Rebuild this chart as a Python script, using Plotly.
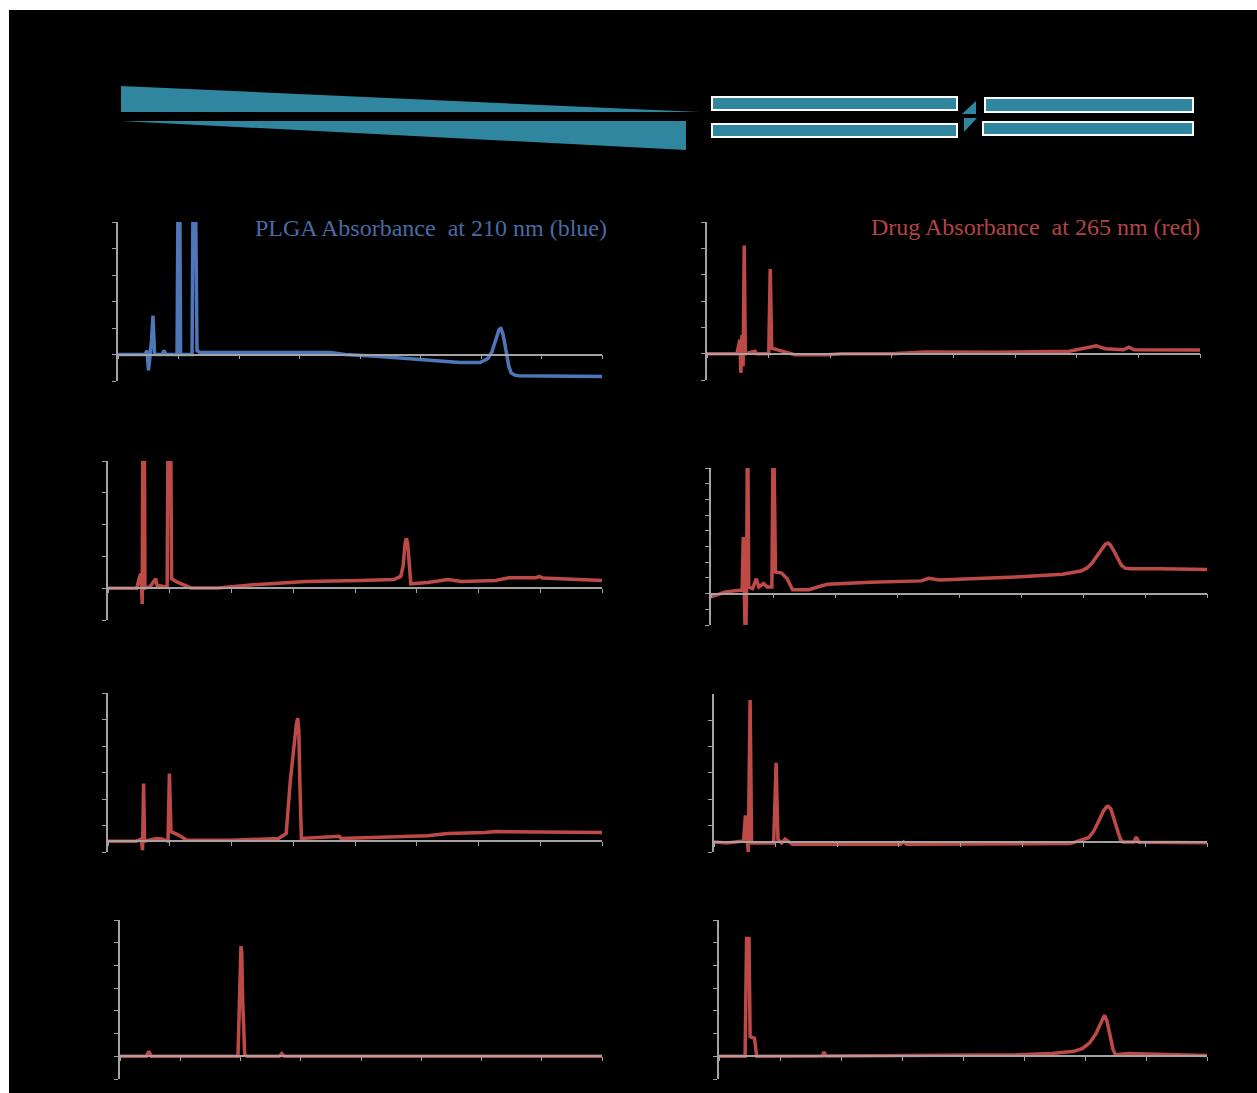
import plotly.graph_objects as go

W, H = 1257, 1093

# ---------------- chromatogram traces (time 0-40, absorbance in axis units) ----------------
# PLGA signal, 210 nm
plga210_t = [0, 2.23, 2.40, 2.52, 2.64, 2.77, 2.89, 3.02, 3.64, 3.80, 3.97, 4.88, 5.04, 5.17,
             6.12, 6.28, 6.53, 6.78, 17.52, 18.76, 21.65, 24.96, 28.26, 29.92, 30.58, 30.90,
             31.10, 31.30, 31.50, 31.65, 31.80, 31.95, 32.10, 32.30, 32.50, 32.80, 33.10, 40]
plga210_a = [0, 0, 0.15, -0.60, -0.08, 0.53, 1.47, 0, 0, 0.15, 0, 0, 12, 0,
             0, 12, 0.15, 0.08, 0.08, 0, -0.08, -0.19, -0.30, -0.30, -0.15, 0.10,
             0.40, 0.75, 0.95, 0.98, 0.80, 0.45, 0.05, -0.45, -0.70, -0.78, -0.80, -0.83]

# Drug signal, 265 nm (same injection)
drug265_t = [0, 2.43, 2.67, 2.75, 2.84, 2.93, 3.02, 3.11, 3.90, 4.04, 5.01, 5.13, 5.25, 5.80,
             6.39, 7.12, 9.76, 10.93, 15.03, 17.67, 23.53, 29.39, 30.86, 31.20, 31.59, 31.90,
             32.32, 33.79, 34.22, 34.66, 40]
drug265_a = [0, 0, 0.53, -0.73, 0.72, -0.48, 4.11, 0, 0.09, 0, 0, 3.21, 0.21, 0.15,
             0.06, -0.04, -0.04, 0, 0, 0.06, 0.05, 0.09, 0.21, 0.27, 0.30, 0.25,
             0.19, 0.15, 0.25, 0.15, 0.14]

# Row 2
r2l_t = [0, 2.33, 2.55, 2.66, 2.77, 2.88, 2.99, 3.42, 3.86, 3.97, 4.79, 4.96, 5.15, 5.62,
         6.71, 8.90, 12.19, 16.03, 20.41, 23.15, 23.70, 23.90, 24.05, 24.16, 24.27, 24.40,
         24.52, 25.89, 27.53, 28.63, 31.37, 32.47, 34.66, 34.93, 35.21, 40]
r2l_a = [0, 0, 0.35, 0.46, -0.50, 12, 0, 0.05, 0.30, 0.09, 0.03, 12, 0.30, 0.19,
         0.01, 0.01, 0.12, 0.21, 0.24, 0.27, 0.37, 0.70, 1.40, 1.57, 1.40, 0.70,
         0.14, 0.18, 0.27, 0.21, 0.24, 0.33, 0.33, 0.37, 0.32, 0.24]

r2r_t = [0, 1.17, 2.34, 2.51, 2.60, 2.69, 2.78, 2.87, 2.95, 3.04, 3.36, 3.65, 3.86, 4.24,
         4.53, 4.91, 5.03, 5.20, 5.70, 6.14, 6.58, 7.89, 9.36, 12.87, 16.96, 17.54, 18.42,
         24.56, 28.36, 29.82, 30.30, 30.70, 31.10, 31.50, 31.80, 32.02, 32.20, 32.50, 32.80,
         33.10, 33.40, 33.80, 36.26, 40]
r2r_a = [-0.21, 0.11, 0.21, 0.21, 3.60, 0.21, -3.60, 0.21, 12, 0.42, 0.32, 0.95, 0.42, 0.64,
         0.42, 0.42, 12, 1.38, 1.31, 0.95, 0.25, 0.25, 0.59, 0.72, 0.81, 0.97, 0.87,
         1.06, 1.23, 1.44, 1.62, 1.91, 2.35, 2.85, 3.15, 3.22, 3.10, 2.70, 2.20,
         1.80, 1.62, 1.58, 1.59, 1.53]

# Row 3
r3l_t = [0, 2.28, 2.69, 2.80, 2.88, 2.96, 3.92, 4.33, 4.86, 4.97, 5.10, 5.71, 6.39, 9.96,
         13.80, 14.43, 14.76, 15.03, 15.25, 15.36, 15.45, 15.53, 15.66, 18.74, 18.87, 25.87,
         27.52, 30.53, 31.36, 40]
r3l_a = [0, 0, 0.08, -0.34, 2.17, 0, 0.10, 0.08, 0, 2.55, 0.36, 0.23, 0.03, 0.03,
         0.10, 0.29, 2.27, 3.61, 4.40, 4.64, 4.20, 2.27, 0.10, 0.18, 0.10, 0.20,
         0.29, 0.33, 0.36, 0.33]

r3r_t = [0, 1.08, 2.40, 2.55, 2.70, 2.78, 2.93, 3.05, 4.84, 5.04, 5.19, 5.48, 5.77, 6.36,
         15.15, 15.38, 15.62, 28.92, 30.39, 30.80, 31.20, 31.60, 31.85, 32.00, 32.20, 32.50,
         32.80, 33.00, 33.20, 34.05, 34.26, 34.49, 40]
r3r_a = [0, -0.04, 0.04, 1.01, 0.06, -0.38, 5.38, -0.04, -0.04, 3.00, 0.09, -0.04, 0.11, -0.09,
         -0.09, 0, -0.09, -0.06, 0.16, 0.40, 0.78, 1.18, 1.33, 1.35, 1.25, 0.85,
         0.35, 0.08, 0, 0, 0.19, -0.01, -0.03]

# Row 4
r4l_t = [0, 2.19, 2.39, 2.59, 9.79, 9.93, 10.00, 10.04, 10.10, 10.18, 10.35, 10.55, 13.22,
         13.42, 13.64, 40]
r4l_a = [0, 0, 0.22, 0, 0, 2.46, 4.60, 4.85, 4.60, 2.46, 0.07, 0, 0, 0.12, 0, 0]

r4r_t = [0, 2.14, 2.26, 2.46, 2.55, 2.91, 3.09, 8.46, 8.61, 8.78, 15.43, 24.33, 27.30, 29.08,
         29.80, 30.40, 30.90, 31.30, 31.60, 31.80, 32.05, 32.30, 32.49, 33.53, 40]
r4r_a = [0, 0, 5.19, 5.19, 0.87, 0.79, 0, 0.01, 0.19, 0.01, 0.04, 0.07, 0.12, 0.22,
         0.35, 0.60, 1.00, 1.50, 1.81, 1.55, 0.94, 0.30, 0.07, 0.12, 0.04]

BLUE = "#4E77B9"
RED = "#BD4A47"
AXIS = "#A3A3A3"
TEAL = "#2F869E"

# panel frames in pixels: (left, right, top, bottom), y range
panels = [
    (plga210_t, plga210_a, BLUE, (118, 602, 222, 381), (-1, 5)),
    (drug265_t, drug265_a, RED, (707, 1200, 222, 380), (-1, 5)),
    (r2l_t, r2l_a, RED, (108, 602, 461, 620), (-1, 4)),
    (r2r_t, r2r_a, RED, (711, 1207, 468, 625), (-2, 8)),
    (r3l_t, r3l_a, RED, (108, 602, 693, 852), (-0.41, 5.59)),
    (r3r_t, r3r_a, RED, (714, 1207, 694, 852), (-0.38, 5.61)),
    (r4l_t, r4l_a, RED, (120, 602, 920, 1079), (-1, 6)),
    (r4r_t, r4r_a, RED, (719, 1207, 920, 1079), (-1, 6)),
]

fig = go.Figure()
layout = {}
for i, (t, a, col, box, yr) in enumerate(panels, start=1):
    left, right, top, bottom = box
    xd = [left / W, right / W]
    yd = [1 - bottom / H, 1 - top / H]
    zero_pos = yd[0] + (0 - yr[0]) / (yr[1] - yr[0]) * (yd[1] - yd[0])
    sfx = "" if i == 1 else str(i)
    layout["xaxis" + sfx] = dict(
        domain=xd, range=[0, 40], anchor="free", position=zero_pos,
        showline=True, linecolor=AXIS, linewidth=1.5,
        ticks="outside", ticklen=4, tickcolor=AXIS, tick0=0, dtick=5,
        showticklabels=False, showgrid=False, zeroline=False, fixedrange=True,
    )
    layout["yaxis" + sfx] = dict(
        domain=yd, range=list(yr), anchor="x" + sfx,
        showline=True, linecolor=AXIS, linewidth=1.5,
        ticks="outside", ticklen=4, tickcolor=AXIS, tick0=yr[0], dtick=1,
        showticklabels=False, showgrid=False, zeroline=False, fixedrange=True,
    )
    fig.add_trace(go.Scatter(
        x=t, y=a, mode="lines", line=dict(color=col, width=3.5),
        xaxis="x" + sfx, yaxis="y" + sfx, showlegend=False, hoverinfo="skip",
    ))


def px(x, y):
    return f"{x / W:.5f},{1 - y / H:.5f}"


def poly(pts):
    return "M " + " L ".join(px(x, y) for x, y in pts) + " Z"


shapes = [
    # dark backdrop
    dict(type="rect", xref="paper", yref="paper", x0=9 / W, x1=1, y0=0, y1=1 - 10 / H,
         fillcolor="black", line=dict(width=0), layer="below"),
    # gradient wedges
    dict(type="path", xref="paper", yref="paper", path=poly([(121, 86), (121, 112), (700, 112)]),
         fillcolor=TEAL, line=dict(width=0)),
    dict(type="path", xref="paper", yref="paper", path=poly([(121, 121), (686, 121), (686, 150)]),
         fillcolor=TEAL, line=dict(width=0)),
    # small connecting triangles
    dict(type="path", xref="paper", yref="paper", path=poly([(962, 114), (976, 101), (976, 114)]),
         fillcolor=TEAL, line=dict(width=0)),
    dict(type="path", xref="paper", yref="paper", path=poly([(964, 118), (977, 118), (964, 132)]),
         fillcolor=TEAL, line=dict(width=0)),
]
for (x0, y0, x1, y1) in [(712, 97, 957, 110), (712, 124, 957, 137),
                         (985, 98, 1193, 112), (983, 122, 1193, 135)]:
    shapes.append(dict(type="rect", xref="paper", yref="paper",
                       x0=x0 / W, x1=x1 / W, y0=1 - y1 / H, y1=1 - y0 / H,
                       fillcolor=TEAL, line=dict(color="white", width=2)))

annotations = [
    dict(text="PLGA Absorbance\u00a0 at 210 nm (blue)", xref="paper", yref="paper",
         x=609 / W, y=1 - 228 / H, xanchor="right", yanchor="middle", showarrow=False,
         font=dict(family="Liberation Serif", size=24, color="#4A6AA3")),
    dict(text="Drug Absorbance\u00a0 at 265 nm (red)", xref="paper", yref="paper",
         x=1202 / W, y=1 - 227 / H, xanchor="right", yanchor="middle", showarrow=False,
         font=dict(family="Liberation Serif", size=24, color="#B34444")),
]

fig.update_layout(
    width=W, height=H, margin=dict(l=0, r=0, t=0, b=0),
    paper_bgcolor="white", plot_bgcolor="rgba(0,0,0,0)",
    shapes=shapes, annotations=annotations, showlegend=False,
    **layout,
)

fig.write_html("out.html", config=dict(displayModeBar=False))
